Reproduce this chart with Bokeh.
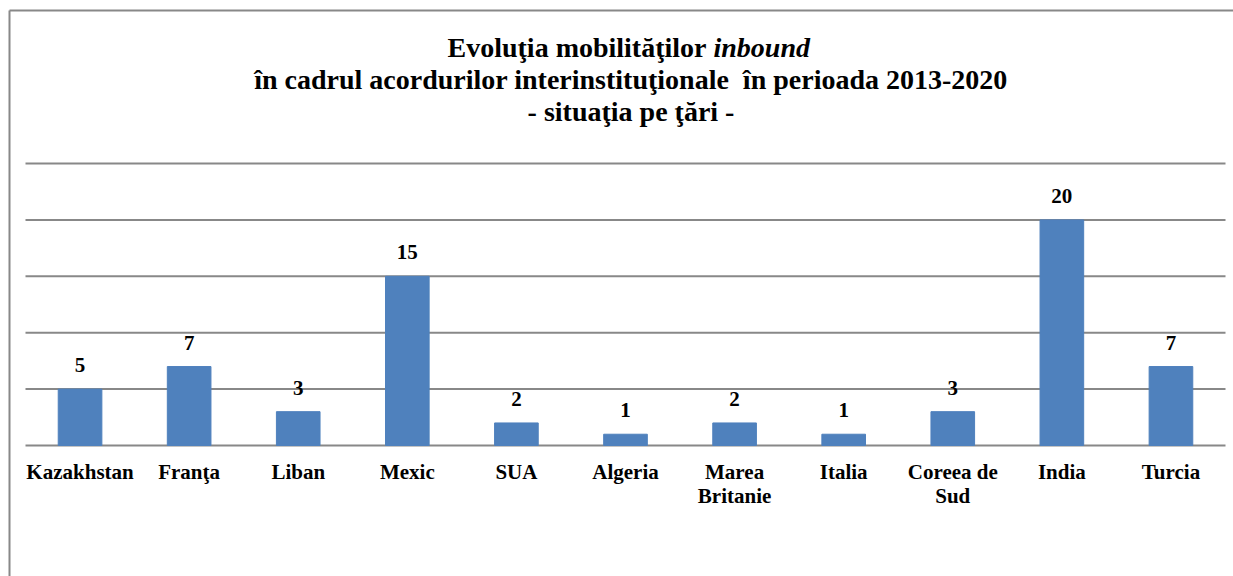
from bokeh.plotting import figure
from bokeh.models import ColumnDataSource, Range1d, FixedTicker
from bokeh.core.properties import value
from bokeh.embed import file_html
from bokeh.resources import INLINE

# ---- data ----
countries = ["Kazakhstan", "Franţa", "Liban", "Mexic", "SUA", "Algeria",
             "Marea Britanie", "Italia", "Coreea de Sud", "India", "Turcia"]
tick_labels = ["Kazakhstan", "Franţa", "Liban", "Mexic", "SUA", "Algeria",
               "Marea\nBritanie", "Italia", "Coreea de\nSud", "India", "Turcia"]
mobilities = [5, 7, 3, 15, 2, 1, 2, 1, 3, 20, 7]
y_ticks = [0, 5, 10, 15, 20, 25]

title_line1 = "Evoluţia mobilităţilor"
title_line1_italic = "inbound"
title_line2 = "în cadrul acordurilor interinstituţionale \u00a0în perioada 2013-2020"
title_line3 = "- situaţia pe ţări -"

FONT = "Liberation Serif"
W, H = 1233, 576
GRAY = "#888888"
BLUE = "#4F81BD"

n = len(countries)
xs = list(range(n))

# layout geometry (pixels) -> data ranges
FRAME_L, FRAME_T = 9, 10
PLOT_L, PLOT_R = 25, 1225          # horizontal extent of the category band
BASE_Y, STEP_PX = 445, 56.4         # pixel row of 0 and pixels per 5 units
ux = (PLOT_R - PLOT_L) / n          # px per category
uy = STEP_PX / 5.0                  # px per unit
x_start = (FRAME_L - PLOT_L) / ux - 0.5
x_end = (W - PLOT_L) / ux - 0.5
y_end = (BASE_Y - FRAME_T) / uy
y_start = -(H - BASE_Y) / uy

def px_to_x(px):
    return (px - PLOT_L) / ux - 0.5

def py_to_y(py):
    return (BASE_Y - py) / uy

p = figure(x_range=Range1d(x_start, x_end), y_range=Range1d(y_start, y_end),
           width=W, height=H, output_backend="svg", toolbar_location=None,
           x_axis_location="above",
           min_border_left=FRAME_L, min_border_right=0,
           min_border_top=FRAME_T, min_border_bottom=0)
p.outline_line_color = None
p.background_fill_color = "white"
p.border_fill_color = "white"
p.grid.visible = False

# axes used only as the outer frame lines (left and top)
for ax in (p.xaxis[0], p.yaxis[0]):
    ax.ticker = FixedTicker(ticks=[])
    ax.axis_line_color = GRAY
    ax.axis_line_width = 2
    ax.major_tick_line_color = None
    ax.minor_tick_line_color = None
    ax.major_tick_out = 0
    ax.major_label_standoff = 0
    ax.major_label_text_font_size = "0px"

# horizontal gridlines across the category band
grid = ColumnDataSource(dict(y=y_ticks, x0=[-0.5] * len(y_ticks), x1=[n - 0.5] * len(y_ticks)))
p.segment(x0="x0", x1="x1", y0="y", y1="y", source=grid, line_color=GRAY, line_width=2)

src = ColumnDataSource(dict(x=xs, value=mobilities, label=[str(v) for v in mobilities],
                            cat=tick_labels))

p.vbar(x="x", top="value", bottom=0, width=0.4, source=src,
       fill_color=BLUE, line_color=BLUE)

# value labels
p.text(x="x", y="value", text="label", source=src,
       text_font=value(FONT), text_font_style="bold", text_font_size="21px",
       text_align="center", text_baseline="alphabetic", y_offset=-24,
       text_color="black")

# category labels
p.text(x="x", y=0, text="cat", source=src,
       text_font=value(FONT), text_font_style="bold", text_font_size="21px",
       text_align="center", text_baseline="top", y_offset=14,
       text_line_height=1.0, text_color="black")

# title
split_x = px_to_x(713)
center_x = px_to_x(630.5)
p.text(x=[split_x], y=[py_to_y(47)], text=[title_line1], x_offset=-7,
       text_font=value(FONT), text_font_style="bold", text_font_size="28px",
       text_align="right", text_baseline="alphabetic", text_color="black")
p.text(x=[split_x], y=[py_to_y(47)], text=[title_line1_italic],
       text_font=value(FONT), text_font_style="bold italic", text_font_size="28px",
       text_align="left", text_baseline="alphabetic", text_color="black")
p.text(x=[center_x], y=[py_to_y(79)], text=[title_line2],
       text_font=value(FONT), text_font_style="bold", text_font_size="28px",
       text_align="center", text_baseline="alphabetic", text_color="black")
p.text(x=[center_x], y=[py_to_y(111)], text=[title_line3],
       text_font=value(FONT), text_font_style="bold", text_font_size="28px",
       text_align="center", text_baseline="alphabetic", text_color="black")

open("out.html", "w").write(file_html(p, INLINE))
